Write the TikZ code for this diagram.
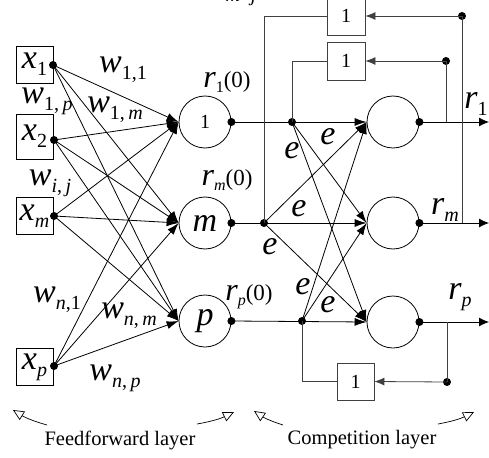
\documentclass[tikz,border=0pt]{standalone}
\usepackage{fontspec}
\setmainfont{Liberation Serif}
\usetikzlibrary{arrows.meta}
\newcommand\BL[1]{{\fontsize{34}{34}\selectfont\itshape #1}}
\newcommand\SB[1]{\raisebox{-7pt}{\fontsize{20}{20}\selectfont #1}}
\newcommand\RG[1]{{\fontsize{20}{20}\selectfont #1}}
\newcommand\RZ[1]{{\fontsize{32}{32}\selectfont\itshape #1}}
\newcommand\SZ[1]{\raisebox{-5pt}{\fontsize{16}{16}\selectfont #1}}
\newcommand\PZ[1]{{\fontsize{23}{23}\selectfont #1}}
\newcommand\IT[1]{\textit{#1}}
\begin{document}
\begin{tikzpicture}[x=1pt,y=-1pt,line width=0.8pt,
  inbox/.style={draw,minimum width=37pt,minimum height=37pt,inner sep=0pt},
  neuron/.style={draw,circle,minimum size=52pt,inner sep=0pt},
  dotc/.style={circle,fill,inner sep=0pt,minimum size=8pt},
  onebox/.style={draw=black!75,minimum width=38pt,minimum height=38pt,inner sep=0pt,font=\fontsize{20}{20}\selectfont},
  lbl/.style={inner sep=0pt},
  ar/.style={-{Latex[length=12pt,width=8pt]}},
  outar/.style={-{Latex[length=10pt,width=9pt]}},
  fb/.style={draw=black!75,-{Latex[length=10pt,width=8pt]}},
  loopline/.style={draw=black!75},
  tri/.style={line width=0.7pt,-{Triangle[open,length=11pt,width=10pt]}},
  bottomtext/.style={inner sep=0pt,font=\fontsize{20.5}{20.5}\selectfont}
]
\useasboundingbox (0,0) rectangle (489,457);

% inputs
\node[inbox] (X1) at (34.5,64.5) {\BL{x}\SB{1}};
\node[inbox,minimum height=45pt] (X2) at (34.5,136.5) {\BL{x}\SB{2}};
\node[inbox] (XM) at (34.5,216) {\BL{x}\SB{\IT{m}}};
\node[inbox] (XP) at (34.5,367) {\BL{x}\SB{\IT{p}}};
\node[dotc] (D1) at (53,65) {};
\node[dotc] (D2) at (54,140) {};
\node[dotc] (DM) at (54,216) {};
\node[dotc] (DP) at (54,366) {};

% feedforward neurons
\node[neuron] (C1) at (205,122) {\RG{1}};
\node[neuron] (CM) at (205,223) {\BL{m}};
\node[neuron] (CP) at (205,321) {\BL{p}};
\node[dotc] (R1) at (C1.east) {};
\node[dotc] (RM) at (CM.east) {};
\node[dotc] (RP) at (CP.east) {};

\foreach \s in {D1,D2,DM,DP}
  \foreach \t in {C1,CM,CP}
    \draw[ar] (\s.center) -- (\t.west);

% competition neurons
\node[neuron] (O1) at (393,122) {};
\node[neuron] (OM) at (393,223) {};
\node[neuron] (OP) at (393,322) {};
\node[dotc] (Q1) at (O1.east) {};
\node[dotc] (QM) at (OM.east) {};
\node[dotc] (QP) at (OP.east) {};

\node[dotc] (J1) at (292,122) {};
\node[dotc] (JM) at (264,223) {};
\node[dotc] (JP) at (302,321) {};

\draw[ar] (R1.center) -- (O1.west);
\draw[ar] (RM.center) -- (OM.west);
\draw[ar] (RP.center) -- (OP.west);
\draw[ar] (J1.center) -- (OM.west);
\draw[ar] (J1.center) -- (OP.west);
\draw[ar] (JM.center) -- (O1.west);
\draw[ar] (JM.center) -- (OP.west);
\draw[ar] (JP.center) -- (O1.west);
\draw[ar] (JP.center) -- (OM.west);

% outputs
\coordinate (E1) at (489,122);
\coordinate (EM) at (489,223);
\coordinate (EP) at (489,322);
\draw[outar] (Q1.center) -- (E1);
\draw[outar] (QM.center) -- (EM);
\draw[outar] (QP.center) -- (EP);

% feedback loops
\node[onebox] (B0) at (346,16) {1};
\node[onebox] (B1) at (346,61) {1};
\node[onebox,minimum width=37pt,minimum height=37pt] (B2) at (355.5,381.5) {1};
\node[dotc] (T0) at (462,16) {};
\node[dotc] (T1) at (446,61) {};
\node[dotc] (T2) at (447,382) {};
\draw[fb] (T0.center) -- (B0.east);
\draw[fb] (T1.center) -- (B1.east);
\draw[fb] (T2.center) -- (B2.east);
\draw[loopline] (T0.center) -- (T0.center |- QM);
\draw[loopline] (T1.center) -- (T1.center |- Q1);
\draw[loopline] (T2.center) -- (T2.center |- QP);
\draw[loopline] (JM.center) |- (B0.west);
\draw[loopline] (J1.center) |- (B1.west);
\draw[loopline] (JP.center) |- (B2.west);

% weight labels
\node[lbl] (W11) at (123,70) {\BL{w}\SB{1,1}};
\node[lbl] (W1P) at (47,101) {\BL{w}\SB{1,\,\IT{p}}};
\node[lbl] (W1M) at (115,110) {\BL{w}\SB{1,\,\IT{m}}};
\node[lbl] (WIJ) at (50,183) {\BL{w}\SB{\IT{i},\,\IT{j}}};
\node[lbl] (WN1) at (57,300) {\BL{w}\SB{\IT{n},1}};
\node[lbl] (WNM) at (129,316) {\BL{w}\SB{\IT{n},\,\IT{m}}};
\node[lbl] (WNP) at (115,378) {\BL{w}\SB{\IT{n},\,\IT{p}}};

% initial value labels
\node[lbl] (L1) at (227,82) {\RZ{r}\SZ{1}\PZ{(0)}};
\node[lbl] (LM) at (227,180) {\RZ{r}\SZ{\IT{m}}\PZ{(0)}};
\node[lbl] (LP) at (249,297) {\RZ{r}\SZ{\IT{p}}\PZ{(0)}};

% output labels
\node[lbl] (OL1) at (476,104) {\BL{r}\SB{1}};
\node[lbl] (OLM) at (445,210) {\BL{r}\SB{\IT{m}}};
\node[lbl] (OLP) at (460,297) {\BL{r}\SB{\IT{p}}};

% e labels
\node[lbl] (e1) at (292,151) {\BL{e}};
\node[lbl] (e2) at (328,137) {\BL{e}};
\node[lbl] (e3) at (299,209) {\BL{e}};
\node[lbl] (e4) at (270,247) {\BL{e}};
\node[lbl] (e5) at (303,287) {\BL{e}};
\node[lbl] (e6) at (328,305) {\BL{e}};

% top cut label
\node[lbl,anchor=base,font=\fontsize{20}{20}\selectfont\itshape] (TOP) at (241,2) {m≠j};

% bottom labels
\node[bottomtext] (FF) at (120,440) {Feedforward layer};
\node[bottomtext] (CL) at (362,440) {Competition layer};
\coordinate (a1) at (47,425);  \coordinate (a2) at (13,410);
\coordinate (a3) at (197,424); \coordinate (a4) at (234,412);
\coordinate (a5) at (283,425); \coordinate (a6) at (254,411);
\coordinate (a7) at (438,424); \coordinate (a8) at (474,412);
\draw[tri] (a1) to[bend left=8] (a2);
\draw[tri] (a3) to[bend right=8] (a4);
\draw[tri] (a5) to[bend left=8] (a6);
\draw[tri] (a7) to[bend right=8] (a8);
\end{tikzpicture}
\end{document}
